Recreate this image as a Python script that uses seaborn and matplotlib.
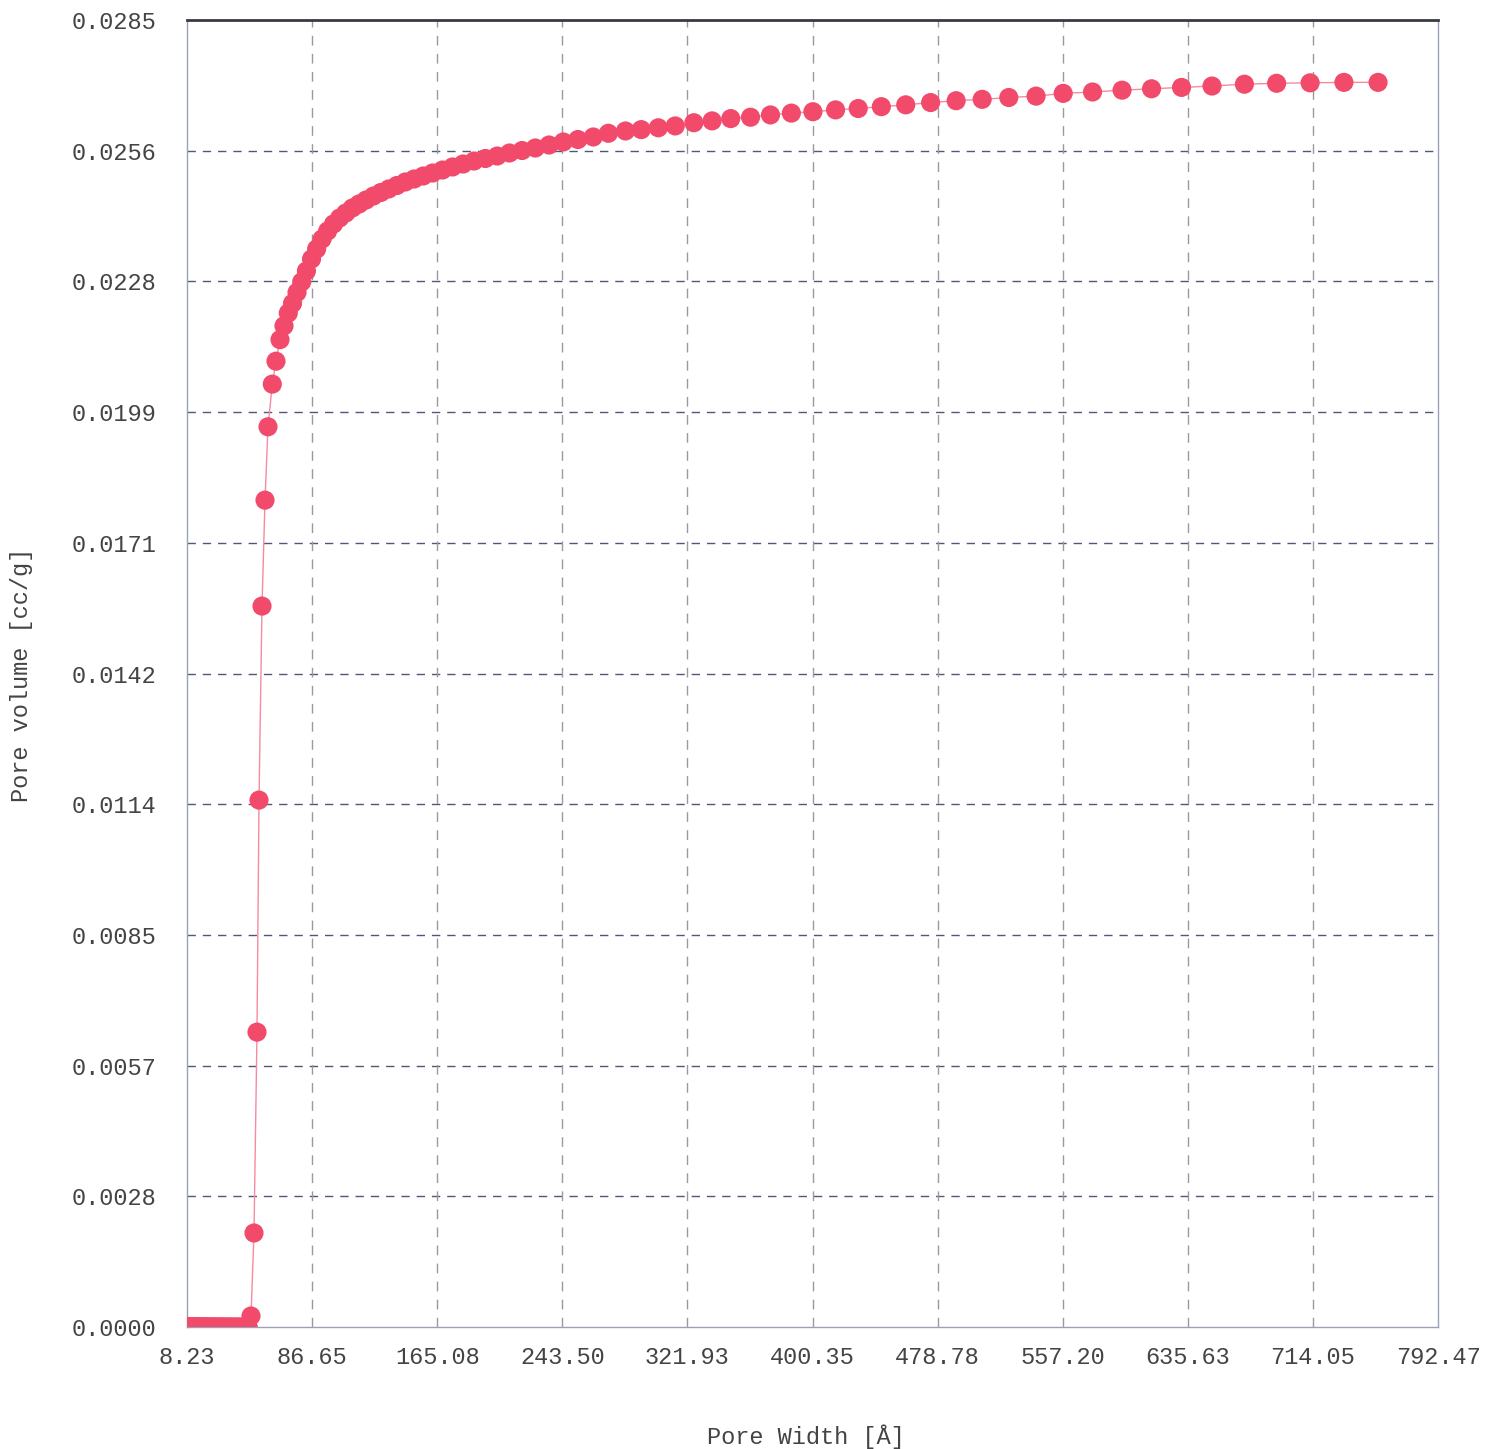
import matplotlib
matplotlib.use("Agg")
import matplotlib.pyplot as plt
import seaborn as sns
import pandas as pd

# Cumulative pore volume vs pore width (DFT)
pore_width = [
    8.6, 9.0, 9.3, 9.7, 10.1, 10.5, 10.9, 11.3, 11.7, 12.2,
    12.6, 13.1, 13.6, 14.1, 14.7, 15.2, 15.8, 16.4, 17.0, 17.7,
    18.4, 19.1, 19.8, 20.5, 21.3, 22.1, 23.0, 23.8, 24.7, 25.7,
    26.6, 27.7, 28.7, 29.8, 30.9, 32.1, 33.3, 34.6, 35.9, 37.2,
    38.6, 40.1, 41.6, 43.2, 44.9, 46.6,
    48.35, 50.23, 52.11, 53.37, 55.25, 57.13, 59.01, 61.70, 64.02, 66.53,
    69.04, 71.73, 74.37, 77.19, 80.14,
    83.1, 86.3, 89.5, 92.9, 96.4, 100.1, 103.9, 107.8, 111.9, 116.1,
    120.5, 125.1, 129.8, 134.7, 139.8, 145.1, 150.6, 156.3, 162.2, 168.4,
    174.7, 181.3, 188.2, 195.3, 202.7, 210.4, 218.3, 226.6, 235.2, 244.1,
    253.3, 262.9,
    272.4, 283.1, 293.0, 303.7, 314.3, 326.0, 337.4, 349.1, 361.5, 374.0,
    387.1, 400.6, 414.8, 429.0, 443.5, 458.8, 474.4, 490.4, 506.7, 523.4,
    540.5, 557.5, 575.9, 594.4, 612.9, 631.7, 650.8, 671.1, 691.3, 712.3,
    733.5, 754.9,
]

pore_volume = [
    0.0, 0.0, 0.0, 0.0, 0.0, 0.0, 0.0, 0.0, 0.0, 0.0,
    0.0, 0.0, 0.0, 0.0, 0.0, 0.0, 0.0, 0.0, 0.0, 0.0,
    0.0, 0.0, 0.0, 0.0, 0.0, 0.0, 0.0, 0.0, 0.0, 0.0,
    0.0, 0.0, 0.0, 0.0, 0.0, 0.0, 0.0, 0.0, 0.0, 0.0,
    0.0, 0.0, 0.0, 0.0, 0.0, 0.0,
    0.00024, 0.00205, 0.00643, 0.01149, 0.01572, 0.01803, 0.01963, 0.02056, 0.02106, 0.02153,
    0.02183, 0.02211, 0.02232, 0.02256, 0.02279,
    0.023027, 0.023289, 0.023507, 0.023725, 0.023899, 0.024052, 0.024183, 0.024292, 0.024401, 0.024488,
    0.024575, 0.024662, 0.024739, 0.024815, 0.024891, 0.024968, 0.025033, 0.025098, 0.025164, 0.025229,
    0.025295, 0.025360, 0.025425, 0.025480, 0.025534, 0.025600, 0.025654, 0.025709, 0.025774, 0.025840,
    0.025894, 0.025949,
    0.02603, 0.02608, 0.02611, 0.02615, 0.02619, 0.02626, 0.02630, 0.02635, 0.02638, 0.02643,
    0.02647, 0.02650, 0.02654, 0.02657, 0.02661, 0.02665, 0.02670, 0.02674, 0.02677, 0.02681,
    0.02684, 0.02690, 0.02693, 0.02697, 0.02700, 0.02703, 0.02706, 0.02710, 0.02712, 0.02713,
    0.02714, 0.02714,
]

x_ticks = [8.23, 86.65, 165.08, 243.50, 321.93, 400.35, 478.78, 557.20, 635.63, 714.05, 792.47]
x_tick_labels = ["8.23", "86.65", "165.08", "243.50", "321.93", "400.35",
                 "478.78", "557.20", "635.63", "714.05", "792.47"]
y_ticks = [0.0, 0.00285, 0.0057, 0.00855, 0.0114, 0.01425, 0.0171, 0.01995, 0.0228, 0.02565, 0.0285]
y_tick_labels = ["0.0000", "0.0028", "0.0057", "0.0085", "0.0114", "0.0142",
                 "0.0171", "0.0199", "0.0228", "0.0256", "0.0285"]

df = pd.DataFrame({"width": pore_width, "volume": pore_volume})

sns.set_style("white")
plt.rcParams["font.family"] = ["Liberation Mono", "DejaVu Sans Mono"]

W, H = 1488, 1449
fig = plt.figure(figsize=(W / 100, H / 100), dpi=100)
ax = fig.add_axes([187 / W, 1 - 1327 / H, (1438 - 187) / W, (1327 - 20) / H])

# grid: darker dashed horizontals, lighter dashed verticals
for yt in y_ticks[1:-1]:
    ax.axhline(yt, color="#4f5878", lw=1.0, ls=(0, (6, 5)), zorder=0)
for xt in x_ticks[1:-1]:
    ax.axvline(xt, color="#9a9a9a", lw=1.0, ls=(0, (7, 6)), zorder=0)

sns.lineplot(data=df, x="width", y="volume", ax=ax, color="#f58aa0", lw=1.0,
             sort=False, zorder=2)
sns.scatterplot(data=df, x="width", y="volume", ax=ax, color="#f24a6b", s=190,
                edgecolor="none", linewidth=0, zorder=3)

ax.set_xlim(8.23, 792.47)
ax.set_ylim(0.0, 0.0285)
ax.set_xticks(x_ticks)
ax.set_xticklabels(x_tick_labels)
ax.set_yticks(y_ticks)
ax.set_yticklabels(y_tick_labels)
ax.tick_params(axis="both", length=0, labelsize=17, labelcolor="#444444")
ax.tick_params(axis="x", pad=14)
ax.tick_params(axis="y", pad=22)

ax.set_xlabel("")
ax.set_ylabel("")
fig.text(806 / W, 1 - 1437 / H, "Pore Width [Å]", fontsize=17, color="#444444",
         ha="center", va="center")
fig.text(22 / W, 1 - 675 / H, "Pore volume [cc/g]", fontsize=17, color="#444444",
         ha="center", va="center", rotation=90)

for side in ["left", "right", "bottom"]:
    ax.spines[side].set_color("#9aa0b8")
    ax.spines[side].set_linewidth(1.0)
ax.spines["top"].set_color("#3a3a44")
ax.spines["top"].set_linewidth(2.0)

fig.savefig("out.png", dpi=100, facecolor="white")
